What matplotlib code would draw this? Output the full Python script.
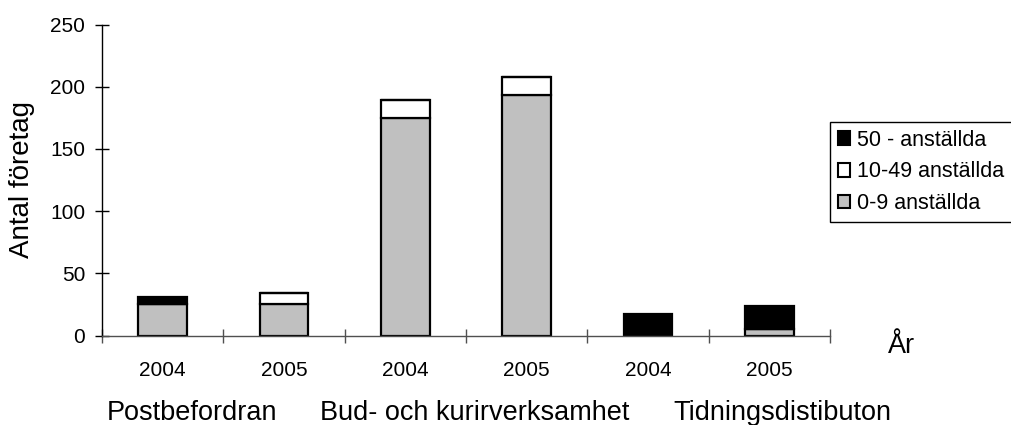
import matplotlib as mpl
mpl.use('Agg')
import matplotlib.pyplot as plt
from matplotlib.patches import Patch
import numpy as np

plt.rcParams['font.family'] = ['Liberation Sans', 'DejaVu Sans']

# data
years = ['2004', '2005', '2004', '2005', '2004', '2005']
groups = ['Postbefordran', 'Bud- och kurirverksamhet', 'Tidningsdistibuton']
small = [25, 25, 175, 193, 0, 5]      # 0-9 anställda
medium = [0, 9, 14, 15, 0, 0]         # 10-49 anställda
large = [6, 0, 0, 0, 17, 19]          # 50 - anställda

fig = plt.figure(figsize=(10.11, 4.25), dpi=100)
ax = fig.add_axes([102/1011, 1 - 335.5/425, 728/1011, 311/425])

x = np.arange(len(years))
small = np.array(small)
medium = np.array(medium)
large = np.array(large)
kw = dict(width=0.4, edgecolor='black', linewidth=1.6)
ax.bar(x, small, color='#c0c0c0', **kw)
ax.bar(x, medium, bottom=small, color='white', **kw)
ax.bar(x, large, bottom=small + medium, color='black', **kw)

ax.set_xlim(-0.5, len(years) - 0.5)
ax.set_ylim(0, 250)
ax.set_yticks(range(0, 251, 50))
ax.set_xticks(x)
ax.set_xticklabels(years)
ax.set_xticks(np.arange(-0.5, len(years), 1.0), minor=True)

for s in ['top', 'right']:
    ax.spines[s].set_visible(False)
ax.spines['left'].set_linewidth(1.0)
ax.spines['bottom'].set_linewidth(1.0)
ax.spines['bottom'].set_color('#505050')

ax.tick_params(axis='y', direction='inout', length=10, width=1, labelsize=15, pad=7)
ax.tick_params(axis='x', which='major', length=0, labelsize=15, pad=18)
ax.tick_params(axis='x', which='minor', direction='inout', length=10, width=1, color='#505050')

ax.set_ylabel('Antal företag', fontsize=20)
ax.yaxis.set_label_coords(-0.092, 0.5)

# group names under the year labels
fig.text(107/1011, 5/425, groups[0], fontsize=19.5, ha='left', va='baseline')
fig.text(320/1011, 5/425, groups[1], fontsize=19.5, ha='left', va='baseline')
fig.text(673/1011, 5/425, groups[2], fontsize=19.5, ha='left', va='baseline')
fig.text(888/1011, 72/425, 'År', fontsize=19.5, ha='left', va='baseline')

handles = [Patch(facecolor='black', edgecolor='black', linewidth=1.5),
           Patch(facecolor='white', edgecolor='black', linewidth=1.5),
           Patch(facecolor='#c0c0c0', edgecolor='black', linewidth=1.5)]
labels = ['50 - anställda', '10-49 anställda', '0-9 anställda']
leg = fig.legend(handles, labels, loc='upper left', bbox_to_anchor=(830/1011, 1 - 122/425),
                 fontsize=15.5, frameon=True, fancybox=False, shadow=False,
                 handlelength=0.6, handleheight=0.6, handletextpad=0.3,
                 borderpad=0.35, borderaxespad=0, labelspacing=0.5)
leg.get_frame().set_edgecolor('black')
leg.get_frame().set_linewidth(1.0)
leg.get_frame().set_alpha(1)

fig.savefig('out.png', dpi=100)
